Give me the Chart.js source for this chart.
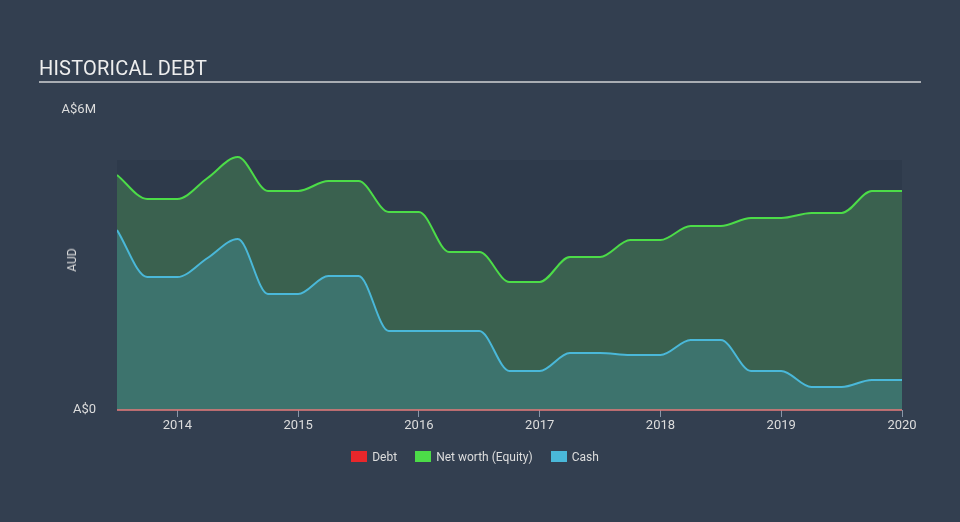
<!DOCTYPE html>
<html>
<head>
<meta charset="utf-8">
<script src="https://cdn.jsdelivr.net/npm/chart.js@4"></script>
<style>
  html, body { margin: 0; padding: 0; background: #333f50; }
  body { width: 960px; height: 522px; position: relative; overflow: hidden; font-family: Roboto, "Open Sans", sans-serif; }
  #title { position: absolute; left: 39px; top: 56px; color: #eeeeee; font-size: 20px; letter-spacing: 0.2px; }
  #rule { position: absolute; left: 39px; top: 81px; width: 882px; height: 2px; background: #a9adb3; }
  #wrap { position: absolute; left: 0; top: 0; width: 960px; height: 522px; }
  #legend { position: absolute; top: 450px; left: 0; width: 950px; text-align: center; font-size: 12px; color: #dddddd; }
  #legend span.item { display: inline-block; margin: 0 9px; }
  #legend span.box { display: inline-block; width: 16px; height: 11px; vertical-align: -1px; margin-right: 5px; }
  #ytitle { position: absolute; left: 72px; top: 260px; transform: translate(-50%, -50%) rotate(-90deg); color: #dddddd; font-size: 12px; white-space: nowrap; }
</style>
</head>
<body>
<div id="wrap"><canvas id="c" width="960" height="522"></canvas></div>
<div id="title">HISTORICAL DEBT</div>
<div id="rule"></div>
<div id="ytitle">AUD</div>
<div id="legend"></div>
<script>
// Dates as decimal years (quarterly)
const dates = [2013.5, 2013.75, 2014.0, 2014.25, 2014.5, 2014.75, 2015.0, 2015.25, 2015.5, 2015.75,
               2016.0, 2016.25, 2016.5, 2016.75, 2017.0, 2017.25, 2017.5, 2017.75, 2018.0, 2018.25,
               2018.5, 2018.75, 2019.0, 2019.25, 2019.5, 2019.75, 2020.0];
// Values in AUD
const debt   = [0,0,0,0,0,0,0,0,0,0,0,0,0,0,0,0,0,0,0,0,0,0,0,0,0,0,0];
const equity = [4.70e6, 4.22e6, 4.22e6, 4.64e6, 5.06e6, 4.38e6, 4.38e6, 4.58e6, 4.58e6, 3.96e6,
                3.96e6, 3.16e6, 3.16e6, 2.56e6, 2.56e6, 3.06e6, 3.06e6, 3.40e6, 3.40e6, 3.68e6,
                3.68e6, 3.84e6, 3.84e6, 3.94e6, 3.94e6, 4.38e6, 4.38e6];
const cash   = [3.60e6, 2.66e6, 2.66e6, 3.04e6, 3.42e6, 2.32e6, 2.32e6, 2.68e6, 2.68e6, 1.58e6,
                1.58e6, 1.58e6, 1.58e6, 0.78e6, 0.78e6, 1.14e6, 1.14e6, 1.10e6, 1.10e6, 1.40e6,
                1.40e6, 0.78e6, 0.78e6, 0.46e6, 0.46e6, 0.60e6, 0.60e6];
const yearTicks = [2014, 2015, 2016, 2017, 2018, 2019, 2020];
const yTicks = [0, 6e6];
const bandTop = 5e6; // top of darker plot band

const seriesNames = ['Debt', 'Net worth (Equity)', 'Cash'];
const seriesColors = ['#e8272b', '#4cdc48', '#4ab8d9'];

// legend
const leg = document.getElementById('legend');
seriesNames.forEach((n, i) => {
  const s = document.createElement('span'); s.className = 'item';
  s.innerHTML = '<span class="box" style="background:' + seriesColors[i] + '"></span>' + n;
  leg.appendChild(s);
});

const pts = arr => arr.map((v, i) => ({x: dates[i], y: v}));

const bandPlugin = {
  id: 'band',
  beforeDatasetsDraw(chart) {
    const {ctx, chartArea, scales} = chart;
    const top = scales.y.getPixelForValue(bandTop);
    ctx.save();
    ctx.fillStyle = '#2e3a4b';
    ctx.fillRect(chartArea.left, top, chartArea.right - chartArea.left, chartArea.bottom - top);
    ctx.restore();
  }
};

new Chart(document.getElementById('c'), {
  type: 'line',
  data: {
    datasets: [
      { label: seriesNames[2], data: pts(cash), borderColor: seriesColors[2], backgroundColor: '#3d736d',
        fill: 'origin', borderWidth: 2, pointRadius: 0, cubicInterpolationMode: 'monotone', order: 1 },
      { label: seriesNames[1], data: pts(equity), borderColor: seriesColors[1], backgroundColor: '#3a614f',
        fill: 'origin', borderWidth: 2, pointRadius: 0, cubicInterpolationMode: 'monotone', order: 2 },
      { label: seriesNames[0], data: pts(debt), borderColor: 'rgba(220,120,120,0.8)', backgroundColor: 'rgba(0,0,0,0)',
        fill: false, borderWidth: 2, pointRadius: 0, order: 0, clip: false }
    ]
  },
  options: {
    responsive: false,
    animation: false,
    events: [],
    layout: { padding: { left: 0, right: 58, top: 110, bottom: 0 } },
    plugins: { legend: { display: false }, tooltip: { enabled: false }, title: { display: false } },
    scales: {
      x: {
        type: 'linear', min: dates[0], max: dates[dates.length - 1],
        afterBuildTicks: s => { s.ticks = yearTicks.map(v => ({value: v})); },
        afterFit: s => { s.height = 112; },
        ticks: { color: '#dddddd', font: { family: 'Roboto', size: 13 }, padding: 1, maxRotation: 0,
                 callback: v => String(v) },
        grid: { display: true, drawOnChartArea: false, drawTicks: true, tickLength: 7, color: '#8a96a8' },
        border: { display: false }
      },
      y: {
        min: 0, max: 6e6,
        afterBuildTicks: s => { s.ticks = yTicks.map(v => ({value: v})); },
        afterFit: s => { s.width = 117; },
        ticks: { color: '#dddddd', font: { family: 'Roboto', size: 13 }, padding: 13,
                 callback: v => v === 0 ? 'A$0' : 'A$' + (v / 1e6) + 'M' },
        grid: { display: false },
        border: { display: false }
      }
    }
  },
  plugins: [bandPlugin]
});
</script>
</body>
</html>
